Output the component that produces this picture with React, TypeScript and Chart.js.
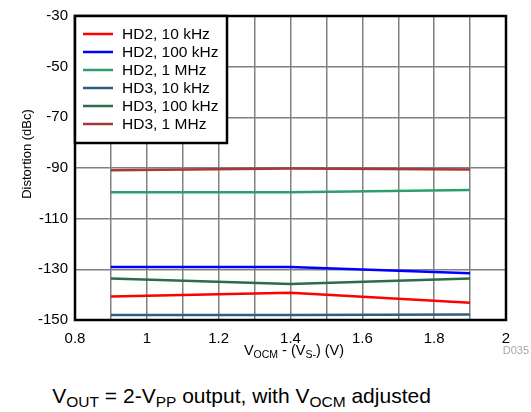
import React, { useEffect, useRef } from 'react';
import { Chart, registerables } from 'chart.js';

Chart.register(...registerables);

// ---- data ----
const vocm = [0.9, 1.4, 1.9];
const hd2_10k = [-140.7, -139.2, -143.2];
const hd2_100k = [-129.1, -129.1, -131.5];
const hd2_1M = [-99.6, -99.6, -98.7];
const hd3_10k = [-148.0, -148.0, -147.8];
const hd3_100k = [-133.6, -135.8, -133.6];
const hd3_1M = [-90.9, -90.2, -90.6];

const seriesNames = ['HD2, 10 kHz', 'HD2, 100 kHz', 'HD2, 1 MHz', 'HD3, 10 kHz', 'HD3, 100 kHz', 'HD3, 1 MHz'];
const seriesValues = [hd2_10k, hd2_100k, hd2_1M, hd3_10k, hd3_100k, hd3_1M];
const seriesColors = ['#ff0000', '#0000ff', '#2f9e6c', '#2f5f80', '#2d6b4a', '#a43a3a'];

const xMin = 0.8;
const xMax = 2;
const xStep = 0.1;
const yMin = -150;
const yMax = -30;
const yStep = 20;

const FONT = 'Arial, "Liberation Sans", sans-serif';
const PAGE_W = 531;
const PAGE_H = 412;
const CANVAS_H = 370;

if (typeof document !== 'undefined') {
  document.body.style.margin = '0';
}

const framePlugin = {
  id: 'frameAndLegend',
  afterDatasetsDraw(chart: any) {
    const { ctx, chartArea } = chart;
    const { left, top, right, bottom } = chartArea;
    ctx.save();
    // frame
    ctx.strokeStyle = '#000';
    ctx.lineWidth = 2.5;
    ctx.strokeRect(left, top, right - left, bottom - top);

    // legend box
    const lw = 152;
    const lh = 127;
    ctx.fillStyle = '#fff';
    ctx.fillRect(left, top, lw, lh);
    ctx.strokeRect(left, top, lw, lh);
    ctx.font = `15.5px ${FONT}`;
    ctx.textBaseline = 'middle';
    ctx.textAlign = 'left';
    seriesNames.forEach((name, i) => {
      const y = top + 18 + i * 18;
      ctx.strokeStyle = seriesColors[i];
      ctx.lineWidth = 2.5;
      ctx.beginPath();
      ctx.moveTo(left + 8, y);
      ctx.lineTo(left + 38, y);
      ctx.stroke();
      ctx.fillStyle = '#000';
      ctx.fillText(name, left + 47, y + 0.5);
    });
    ctx.restore();
  },
  afterDraw(chart: any) {
    const { ctx, chartArea } = chart;
    ctx.save();
    ctx.fillStyle = '#000';
    ctx.textBaseline = 'alphabetic';
    // y title
    ctx.save();
    ctx.translate(26, 154);
    ctx.rotate(-Math.PI / 2);
    ctx.font = `13px ${FONT}`;
    ctx.textAlign = 'center';
    ctx.fillText('Distortion (dBc)', 0, 4.5);
    ctx.restore();

    // x title with subscripts
    const parts: [string, boolean][] = [
      ['V', false], ['OCM', true], [' - (V', false], ['S-', true], [') (V)', false],
    ];
    const big = `14.5px ${FONT}`;
    const small = `10.5px ${FONT}`;
    let total = 0;
    parts.forEach(([t, sub]) => {
      ctx.font = sub ? small : big;
      total += ctx.measureText(t).width;
    });
    let x = (chartArea.left + chartArea.right) / 2 + 3.5 - total / 2;
    const base = 355;
    ctx.textAlign = 'left';
    parts.forEach(([t, sub]) => {
      ctx.font = sub ? small : big;
      ctx.fillText(t, x, sub ? base + 2.5 : base);
      x += ctx.measureText(t).width;
    });

    // D035
    ctx.fillStyle = '#a6a6a6';
    ctx.font = `11px ${FONT}`;
    ctx.textAlign = 'right';
    ctx.fillText('D035', 529, 354);
    ctx.restore();
  },
};

export default function App() {
  const ref = useRef<HTMLCanvasElement | null>(null);

  useEffect(() => {
    document.body.style.margin = '0';
    if (!ref.current) return;
    const chart = new Chart(ref.current, {
      type: 'line',
      data: {
        datasets: seriesNames.map((name, i) => ({
          label: name,
          data: vocm.map((v, j) => ({ x: v, y: seriesValues[i][j] })),
          borderColor: seriesColors[i],
          backgroundColor: seriesColors[i],
          borderWidth: 2.5,
          pointRadius: 0,
          tension: 0,
          fill: false,
        })),
      },
      options: {
        responsive: false,
        animation: false,
        events: [],
        layout: { padding: { top: 14, right: 25, left: 0, bottom: 0 } },
        plugins: {
          legend: { display: false },
          tooltip: { enabled: false },
        },
        scales: {
          x: {
            type: 'linear',
            min: xMin,
            max: xMax,
            border: { display: false },
            grid: { color: '#808080', lineWidth: 1.5, drawTicks: false },
            ticks: {
              stepSize: xStep,
              autoSkip: false,
              maxRotation: 0,
              padding: 10,
              color: '#000',
              font: { family: FONT, size: 15 },
              callback: (value: any) => {
                const v = Math.round(Number(value) * 10);
                return v % 2 === 0 ? String(v / 10) : '';
              },
            },
            afterFit: (scale: any) => {
              scale.height = 50;
            },
          },
          y: {
            type: 'linear',
            min: yMin,
            max: yMax,
            border: { display: false },
            grid: { color: '#808080', lineWidth: 1.5, drawTicks: false },
            ticks: {
              stepSize: yStep,
              padding: 7,
              color: '#000',
              font: { family: FONT, size: 15 },
            },
            afterFit: (scale: any) => {
              scale.width = 75;
            },
          },
        },
      },
      plugins: [framePlugin],
    } as any);
    return () => chart.destroy();
  }, []);

  const subStyle: React.CSSProperties = { fontSize: '15.5px', verticalAlign: '-4px', lineHeight: 0 };

  return (
    <div style={{ position: 'relative', width: PAGE_W, height: PAGE_H, overflow: 'hidden', background: '#fff' }}>
      <canvas ref={ref} width={PAGE_W} height={CANVAS_H} style={{ display: 'block', width: PAGE_W, height: CANVAS_H }} />
      <div
        style={{
          position: 'absolute',
          left: 52.3,
          top: 384.7,
          fontFamily: FONT,
          fontSize: '21px',
          lineHeight: '22px',
          whiteSpace: 'nowrap',
          color: '#000',
        }}
      >
        V<sub style={subStyle}>OUT</sub> = 2-V<sub style={subStyle}>PP</sub> output, with V<sub style={subStyle}>OCM</sub> adjusted
      </div>
    </div>
  );
}
